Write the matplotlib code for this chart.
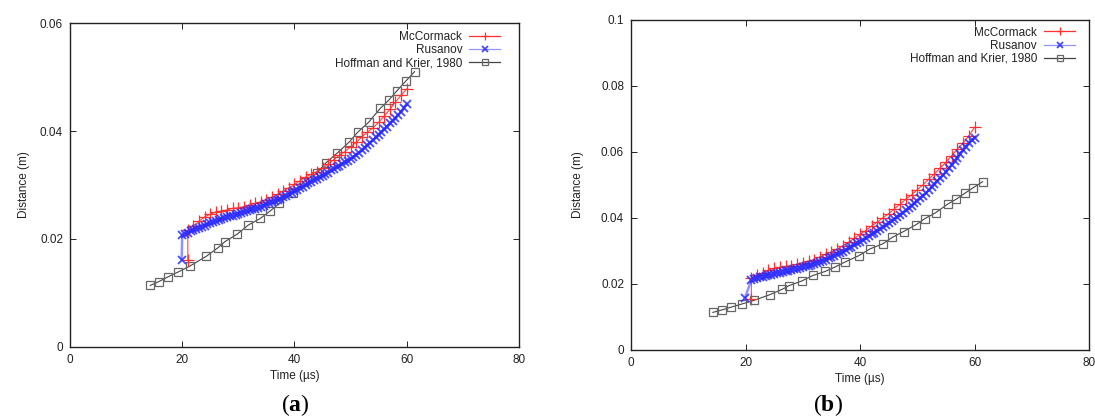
import numpy as np
import matplotlib
matplotlib.use("Agg")
import matplotlib.pyplot as plt

plt.rcParams['font.family'] = ['Liberation Sans', 'DejaVu Sans']
plt.rcParams['mathtext.fontset'] = 'custom'
plt.rcParams['mathtext.rm'] = 'Liberation Serif'
plt.rcParams['mathtext.bf'] = 'Liberation Serif:bold'

# Hoffman and Krier, 1980 (same experimental data in both panels)
hk_t = [14.3, 15.8, 17.5, 19.3, 21.4, 24.3, 26.4, 27.6, 29.8, 31.8, 33.9, 35.7, 37.3,
        39.8, 41.7, 44.0, 45.6, 47.6, 49.8, 51.3, 53.2, 55.3, 56.8, 58.3, 59.8, 61.4]
hk_x = [0.0114, 0.0121, 0.0130, 0.0139, 0.0150, 0.0168, 0.0184, 0.0195, 0.0209, 0.0226,
        0.0238, 0.0252, 0.0266, 0.0286, 0.0306, 0.0322, 0.0341, 0.0359, 0.0380, 0.0398,
        0.0416, 0.0442, 0.0457, 0.0475, 0.0492, 0.0510]

# McCormack, panel (a)
mc_t = [21.0, 21.0, 22, 23, 24, 25, 26, 27, 28, 29, 30, 31, 32, 33, 34, 35, 36, 37, 38, 39,
        40, 41, 42, 43, 44, 45, 46, 47, 48, 49, 50, 51, 52, 53, 54, 55, 56, 57, 58, 59, 60]
mc_a = [0.0161, 0.0216, 0.0224, 0.0233, 0.0241, 0.0246, 0.0250, 0.0252, 0.0254, 0.0257,
        0.0258, 0.0260, 0.0263, 0.0266, 0.0269, 0.0273, 0.0277, 0.0283, 0.0289, 0.0295,
        0.0301, 0.0308, 0.0315, 0.0320, 0.0325, 0.0331, 0.0339, 0.0347, 0.0355, 0.0362,
        0.0371, 0.0379, 0.0389, 0.0398, 0.0406, 0.0416, 0.0428, 0.0440, 0.0454, 0.0466, 0.0478]
# McCormack, panel (b)
mc_b = [0.0156, 0.0218, 0.0226, 0.0233, 0.0242, 0.0247, 0.0251, 0.0253, 0.0256, 0.0260,
        0.0265, 0.0269, 0.0274, 0.0282, 0.0290, 0.0297, 0.0305, 0.0316, 0.0327, 0.0338,
        0.0351, 0.0362, 0.0376, 0.0387, 0.0401, 0.0413, 0.0428, 0.0442, 0.0457, 0.0470,
        0.0486, 0.0501, 0.0518, 0.0534, 0.0552, 0.0569, 0.0589, 0.0609, 0.0627, 0.0649, 0.0675]

# Rusanov, panel (a)
ru_ta = [19.9, 20.0, 20.5, 21.0, 21.5, 22.0, 22.5, 23.0, 23.5, 24.0, 24.5, 25.0, 25.5, 26.0,
         26.5, 27.0, 27.5, 28.0, 28.5, 29.0, 29.5, 30.0, 30.5, 31.0, 31.5, 32.0, 32.5, 33.0,
         33.5, 34.0, 34.5, 35.0, 35.5, 36.0, 36.5, 37.0, 37.5, 38.0, 38.5, 39.0, 39.5, 40.0,
         40.5, 41.0, 41.5, 42.0, 42.5, 43.0, 43.5, 44.0, 44.5, 45.0, 45.5, 46.0, 46.5, 47.0,
         47.5, 48.0, 48.5, 49.0, 49.5, 50.0, 50.5, 51.0, 51.5, 52.0, 52.5, 53.0, 53.5, 54.0,
         54.5, 55.0, 55.5, 56.0, 56.5, 57.0, 57.5, 58.0, 58.5, 59.0, 59.5, 60.0]
ru_a = [0.0162, 0.0207, 0.0210, 0.0212, 0.0215, 0.0217, 0.0219, 0.0221, 0.0223, 0.0225,
        0.0227, 0.0229, 0.0231, 0.0233, 0.0235, 0.0237, 0.0238, 0.0240, 0.0242, 0.0243,
        0.0245, 0.0246, 0.0248, 0.0250, 0.0251, 0.0253, 0.0255, 0.0256, 0.0258, 0.0260,
        0.0262, 0.0264, 0.0266, 0.0268, 0.0270, 0.0272, 0.0274, 0.0277, 0.0280, 0.0283,
        0.0285, 0.0288, 0.0291, 0.0294, 0.0297, 0.0300, 0.0303, 0.0306, 0.0309, 0.0312,
        0.0314, 0.0317, 0.0320, 0.0323, 0.0327, 0.0330, 0.0333, 0.0336, 0.0339, 0.0342,
        0.0345, 0.0349, 0.0352, 0.0356, 0.0360, 0.0365, 0.0369, 0.0374, 0.0378, 0.0383,
        0.0388, 0.0393, 0.0398, 0.0403, 0.0408, 0.0414, 0.0419, 0.0424, 0.0430, 0.0436,
        0.0443, 0.0450]

# Rusanov, panel (b)
ru_tb = [19.9, 21.0, 21.5, 22.0, 22.5, 23.0, 23.5, 24.0, 24.5, 25.0, 25.5, 26.0, 26.5, 27.0,
         27.5, 28.0, 28.5, 29.0, 29.5, 30.0, 30.5, 31.0, 31.5, 32.0, 32.5, 33.0, 33.5, 34.0,
         34.5, 35.0, 35.5, 36.0, 36.5, 37.0, 37.5, 38.0, 38.5, 39.0, 39.5, 40.0, 40.5, 41.0,
         41.5, 42.0, 42.5, 43.0, 43.5, 44.0, 44.5, 45.0, 45.5, 46.0, 46.5, 47.0, 47.5, 48.0,
         48.5, 49.0, 49.5, 50.0, 50.5, 51.0, 51.5, 52.0, 52.5, 53.0, 53.5, 54.0, 54.5, 55.0,
         55.5, 56.0, 56.5, 57.0, 57.5, 58.0, 58.5, 59.0, 59.5, 60.0]
ru_b = [0.0158, 0.0212, 0.0215, 0.0218, 0.0220, 0.0222, 0.0224, 0.0226, 0.0228, 0.0230,
        0.0232, 0.0234, 0.0236, 0.0238, 0.0240, 0.0242, 0.0244, 0.0246, 0.0249, 0.0251,
        0.0254, 0.0256, 0.0259, 0.0262, 0.0265, 0.0268, 0.0271, 0.0274, 0.0278, 0.0282,
        0.0286, 0.0290, 0.0294, 0.0298, 0.0303, 0.0308, 0.0313, 0.0318, 0.0323, 0.0328,
        0.0333, 0.0339, 0.0344, 0.0350, 0.0355, 0.0361, 0.0366, 0.0372, 0.0378, 0.0384,
        0.0390, 0.0396, 0.0403, 0.0409, 0.0416, 0.0423, 0.0430, 0.0437, 0.0444, 0.0452,
        0.0460, 0.0468, 0.0476, 0.0484, 0.0493, 0.0502, 0.0511, 0.0520, 0.0530, 0.0540,
        0.0551, 0.0561, 0.0572, 0.0583, 0.0594, 0.0605, 0.0616, 0.0627, 0.0636, 0.0643]

xticks = [0, 20, 40, 60, 80]
yticks_a = [0, 0.02, 0.04, 0.06]
yticks_b = [0, 0.02, 0.04, 0.06, 0.08, 0.1]
ytick_labels_a = ['0', '0.02', '0.04', '0.06']
ytick_labels_b = ['0', '0.02', '0.04', '0.06', '0.08', '0.1']

TXT = '#222222'


def draw_panel(ax, mc_y, ru_t, ru_y, yticks, ylabels, ypad, leg_anchor):
    ax.plot(mc_t, mc_y, color='#ff3030', lw=0.7, marker='+', ms=8, mew=0.9,
            label='McCormack', zorder=3)
    ax.plot(ru_t, ru_y, color='#8080ff', lw=1.8, marker='x', ms=5.5, mew=1.3,
            mec='#2a2aff', alpha=0.85, label='Rusanov', zorder=4)
    ax.plot(hk_t, hk_x, color='#444444', lw=0.8, marker='s', ms=5.5, mfc='none',
            mec='#666666', mew=0.9, label='Hoffman and Krier, 1980', zorder=2)
    ax.set_xlim(0, 80)
    ax.set_ylim(yticks[0], yticks[-1])
    ax.set_xticks(xticks)
    ax.set_yticks(yticks)
    ax.set_yticklabels(ylabels)
    ax.tick_params(direction='in', length=4, width=0.6, top=True, right=True,
                   labelsize=8.5, labelcolor=TXT, pad=5)
    for s in ax.spines.values():
        s.set_linewidth(1.0)
        s.set_color('#222222')
    ax.set_xlabel('Time (µs)', fontsize=8.5, color=TXT, labelpad=3)
    ax.set_ylabel('Distance (m)', fontsize=8.5, color=TXT, labelpad=ypad)
    leg = ax.legend(loc='upper right', bbox_to_anchor=leg_anchor, markerfirst=False,
                    frameon=False, fontsize=8.5, handlelength=2.6, labelspacing=0.1,
                    borderaxespad=0.0, borderpad=0.0, handletextpad=0.6,
                    labelcolor=TXT, markerscale=0.75)
    for h in leg.get_lines():
        h.set_linewidth(0.9)


fig = plt.figure(figsize=(10.95, 4.18), dpi=100)
ax_a = fig.add_axes([0.0639, 0.1699, 0.410, 0.775])
ax_b = fig.add_axes([0.5763, 0.1627, 0.4183, 0.7895])

draw_panel(ax_a, mc_a, ru_ta, ru_a, yticks_a, ytick_labels_a, 7, (0.958, 0.975))
draw_panel(ax_b, mc_b, ru_tb, ru_b, yticks_b, ytick_labels_b, 12, (0.969, 0.98))

fig.text(295 / 1095, 1 - 405 / 418, r'$(\mathbf{a})$', ha='center', va='center', fontsize=17)
fig.text(828 / 1095, 1 - 405 / 418, r'$(\mathbf{b})$', ha='center', va='center', fontsize=17)

fig.savefig('out.png', dpi=100)
